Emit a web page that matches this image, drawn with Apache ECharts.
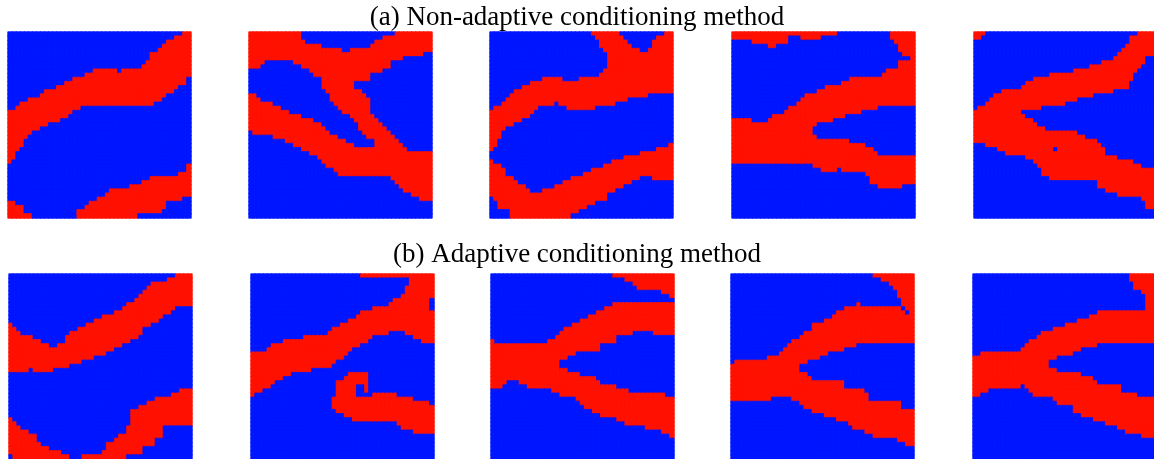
<!DOCTYPE html>
<html><head><meta charset="utf-8">
<script src="https://cdn.jsdelivr.net/npm/echarts@6/dist/echarts.min.js"></script>
<style>html,body{margin:0;padding:0;background:#fff}#c{width:1154px;height:459px}</style>
</head><body><div id="c"></div>
<script>
// Facies realisations on a 45x45 grid. Each column lists red (channel) runs as [start,end) row pairs, row 0 at top.
const titles = ['(a) Non-adaptive conditioning method', '(b) Adaptive conditioning method'];
const faciesNames = ['background', 'channel'];

const a1 = [
[19,32,41,45],[19,31,41,45],[18,29,42,45],[17,28,42,45],[17,26,44,45],[16,25,44,45],[16,24],[16,24],[15,23],[14,23],
[14,22],[14,22],[13,22],[13,21],[12,21],[12,20],[11,19],[11,19,43,45],[11,18,43,45],[10,18,42,45],
[10,18,41,45],[9,18,41,45],[9,18,40,45],[9,18,40,45],[9,18,39,45],[9,18,38,45],[9,18,38,45],[10,18,38,45],[9,18,38,45],[9,18,38,45],
[9,18,37,45],[9,18,37,45],[9,18,37,44],[8,18,36,44],[7,18,36,44],[5,18,35,44],[5,17,35,44],[4,17,35,44],[3,16,35,43],[2,15,35,41],
[2,15,35,41],[1,14,35,41],[1,13,34,41],[0,13,34,40],[0,11,32,40]
];
const a2 = [
[0,9,15,24],[0,9,15,25],[0,9,16,25],[0,8,17,25],[0,7,17,25],[0,7,17,25],[0,7,18,26],[0,7,18,26],[0,7,19,26],[0,7,19,27],
[0,7,20,27],[0,8,20,28],[0,8,20,28],[2,9,21,29],[3,9,21,29],[3,10,21,30],[3,11,22,30],[3,11,22,31],[4,14,23,32],[4,15,24,33],
[4,17,25,33],[4,18,25,34],[4,19,26,35],[5,20,26,35],[5,20,27,35],[4,21,27,35],[4,12,14,22,28,35],[4,12,14,24,28,35],[4,12,15,25,28,35],[4,12,16,26,28,35],
[3,10,20,26,28,35],[2,10,21,35],[2,10,22,35],[1,9,23,35],[1,9,24,35],[1,7,25,36],[0,7,26,37],[0,7,27,38],[0,6,28,39],[0,6,29,39],
[0,6,29,40],[0,6,29,40],[0,6,29,41],[0,5,29,41],[0,5,29,41]
];
const a3 = [
[19,29,31,40],[18,28,32,41],[18,26,32,43],[17,24,33,43],[16,23,35,43],[15,23,35,45],[14,22,36,45],[14,22,37,45],[13,21,37,45],[13,21,38,45],
[12,20,39,45],[12,19,39,45],[12,18,39,45],[11,18,38,45],[11,18,38,45],[11,18,38,45],[11,17,37,45],[11,18,37,45],[12,18,36,45],[12,19,36,45],
[12,19,35,44],[12,19,35,44],[11,19,35,43],[11,19,34,43],[11,19,34,42],[0,1,11,19,33,42],[0,2,11,18,33,41],[0,4,10,18,33,41],[0,5,9,18,32,41],[0,18,32,39],
[0,18,31,39],[0,17,31,38],[1,17,31,38],[2,17,30,37],[3,16,30,37],[4,16,30,36],[4,16,30,36],[5,16,29,35],[5,16,29,35],[4,15,29,35],
[2,15,29,36],[1,15,28,36],[1,15,28,36],[0,15,28,36],[0,15,27,36]
];
const a4 = [
[0,2,21,32],[0,2,21,32],[0,2,21,32],[0,2,21,32],[0,2,21,32],[0,3,22,32],[0,3,22,32],[0,3,22,32],[0,3,22,32],[0,4,21,32],
[0,4,20,32],[0,3,20,32],[0,3,20,32],[0,3,19,32],[0,1,18,32],[0,1,18,32],[0,1,17,32],[0,2,16,32],[0,2,15,32],[0,2,15,32],
[0,2,15,23,25,33],[0,2,14,22,26,33],[0,1,14,22,26,34],[0,1,13,22,26,34],[0,1,13,22,26,34],[0,1,13,21,26,34],[13,21,26,33],[12,21,26,34],[12,20,26,34],[11,20,27,34],
[11,20,27,34],[11,20,27,34],[11,19,27,34],[11,19,28,35],[11,19,28,37],[11,19,29,37],[11,18,30,38],[10,18,30,38],[9,18,30,38],[0,2,9,18,30,38],
[0,3,9,18,30,38],[0,5,7,18,30,38],[0,6,7,18,30,37],[0,6,7,18,30,37],[0,18,30,37]
];
const a5 = [
[0,2,19,27],[0,2,18,27],[0,1,18,27],[17,28],[16,28],[15,28],[15,29],[14,29],[14,30],[14,30],
[14,30],[14,30],[13,19,20,30],[12,19,21,31],[12,19,21,31],[11,19,22,32],[11,19,23,33],[11,18,23,35],[11,18,24,35],[10,18,24,36],
[10,18,24,28,29,36],[10,18,24,36],[10,18,24,36],[10,17,24,36],[10,17,24,36],[9,17,24,36],[9,16,25,36],[9,16,25,36],[9,16,26,36],[8,16,26,36],
[8,15,26,36],[8,15,27,38],[7,15,28,38],[7,15,30,39],[7,15,30,39],[6,14,30,39],[5,14,31,40],[4,14,31,40],[3,14,31,40],[1,12,31,40],
[1,10,32,40],[0,9,32,40],[0,8,33,41],[0,6,33,43],[0,6,33,43]
];
const b1 = [
[12,24,35,44],[13,24,36,45],[14,24,37,45],[15,24,38,45],[15,24,38,45],[15,23,39,45],[16,24,39,45],[16,24,41,45],[17,24,42,45],[17,24,42,45],
[18,24,43,45],[18,23,43,45],[17,23,43,45],[17,23,44,45],[15,23,44,45],[14,22],[14,22],[13,22],[13,21,44,45],[12,21,44,45],
[12,21,44,45],[11,20,44,45],[11,20,44,45],[10,20,43,45],[10,19,41,45],[10,19,41,45],[9,18,40,45],[9,18,39,45],[8,17,39,45],[7,17,37,44],
[7,16,33,44],[6,16,33,44],[5,15,32,44],[4,13,32,42],[3,13,31,42],[2,12,31,42],[2,12,30,40],[2,11,30,40],[2,10,30,37],[1,10,30,37],
[1,9,29,37],[0,8,29,37],[0,8,28,37],[0,8,28,37],[0,8,28,37]
];
const b2 = [
[19,30],[19,29],[19,29],[19,28],[18,28],[17,27],[17,26],[17,26],[16,25],[16,25],
[16,24],[16,24],[16,24],[15,24],[15,24],[15,23],[15,23],[15,23],[15,23],[14,23],
[13,22,30,33],[13,21,26,34],[12,21,26,34],[12,20,25,35],[11,19,24,35],[11,18,24,36],[10,18,24,27,30,36],[0,1,9,17,24,27,30,36],[0,1,9,17,24,29,30,36],[0,1,9,16,30,36],
[0,1,8,15,29,36],[0,1,8,15,29,36],[0,1,8,15,29,36],[0,1,8,15,29,36],[0,1,7,14,29,36],[0,1,6,14,29,36],[0,1,6,14,30,37],[0,1,5,14,30,38],[0,1,3,15,30,38],[0,15,30,38],
[0,16,31,39],[0,16,31,39],[0,17,31,39],[0,17,31,39],[0,6,9,17,32,39]
];
const b3 = [
[16,28],[17,28],[17,28],[17,27],[17,26],[17,26],[17,26],[17,27],[17,27],[17,28],
[17,28],[17,28],[17,28],[17,28],[16,28],[16,29],[15,29],[14,21,23,30],[13,21,23,30],[13,20,24,30],
[12,20,24,30],[12,19,24,31],[11,19,25,32],[11,19,25,33],[10,19,25,33],[10,19,25,34],[9,19,26,34],[9,17,27,35],[8,17,27,35],[8,17,27,35],
[0,1,7,17,27,35],[0,1,7,15,28,36],[0,1,7,15,28,36],[0,2,7,15,28,37],[0,2,7,15,29,37],[0,3,7,14,29,37],[0,4,7,14,29,37],[0,4,7,14,29,37],[0,4,7,14,29,38],[0,4,7,14,29,38],
[0,4,7,15,29,38],[0,4,7,15,29,38],[0,5,7,15,29,39],[0,5,7,15,30,39],[0,6,7,15,30,40]
];
const b4 = [
[22,31],[21,31],[21,31],[21,31],[21,31],[21,31],[21,31],[21,31],[21,31],[20,31],
[20,30],[20,30],[19,30],[18,30],[17,30],[16,31],[16,31],[15,22,24,32],[14,22,24,33],[14,21,25,33],
[12,21,26,34],[12,21,26,34],[12,20,26,34],[11,20,26,35],[11,19,26,35],[10,19,26,35],[9,19,26,36],[9,19,26,36],[8,18,28,36],[8,18,28,37],
[8,18,28,38],[7,17,28,38],[8,17,28,38],[8,17,29,39],[8,17,31,39],[0,1,8,17,31,40],[0,1,8,17,31,40],[0,2,8,17,31,40],[0,2,8,17,31,40],[0,3,8,17,31,40],
[0,4,8,17,31,40],[0,6,8,17,31,41],[0,8,9,17,33,41],[0,9,10,17,33,42],[0,17,33,42]
];
const b5 = [
[20,30],[20,30],[19,29],[19,29],[19,28],[19,28],[19,28],[19,28],[19,28],[19,28],
[19,28],[19,28],[18,27],[17,28],[16,29],[16,30],[15,30],[14,30],[14,30],[14,21,23,30],
[13,21,23,31],[13,20,24,32],[13,20,24,32],[12,20,24,32],[12,20,24,32],[12,19,24,34],[11,19,24,34],[11,18,25,35],[11,18,25,35],[10,18,25,35],
[10,18,26,36],[9,17,27,36],[9,17,27,36],[9,17,27,37],[9,17,27,37],[9,17,27,37],[9,17,27,38],[9,17,29,38],[9,17,29,39],[0,2,9,17,29,39],
[0,4,9,17,29,39],[0,4,9,17,30,39],[0,5,9,17,30,40],[0,17,30,40],[0,17,30,40]
];

const panels = [a1, a2, a3, a4, a5, b1, b2, b3, b4, b5];
const N = 45;
const panelLeft = [[8, 249, 490, 732, 974], [9, 251, 491, 731, 973]];
const panelTop = [32, 274];
const PW = 183, PH = 186;
const COLORS = ['#0016ff', '#ff1100'];

function decode(cols) {
  const d = [];
  for (let c = 0; c < N; c++) {
    const runs = cols[c];
    for (let r = 0; r < N; r++) {
      let v = 0;
      for (let k = 0; k < runs.length; k += 2) if (r >= runs[k] && r < runs[k + 1]) v = 1;
      d.push({value: [c, r, v], name: faciesNames[v],
        itemStyle: {color: COLORS[v], borderColor: COLORS[v], borderWidth: 0.8}});
    }
  }
  return d;
}

const idx = Array.from({length: N}, (_, i) => i);
const grid = [], xAxis = [], yAxis = [], series = [];
panels.forEach((p, i) => {
  const row = Math.floor(i / 5), col = i % 5;
  grid.push({left: panelLeft[row][col], top: panelTop[row], width: PW, height: PH});
  xAxis.push({type: 'category', data: idx, gridIndex: i, show: false, boundaryGap: true});
  yAxis.push({type: 'category', data: idx, gridIndex: i, show: false, inverse: true, boundaryGap: true});
  series.push({type: 'heatmap', xAxisIndex: i, yAxisIndex: i, data: decode(p), progressive: 0, emphasis: {disabled: true}});
});

const chart = echarts.init(document.getElementById('c'), null, {renderer: 'canvas'});
chart.setOption({
  animation: false,
  backgroundColor: '#ffffff',
  title: [
    {text: titles[0], left: 'center', top: 4, padding: 0, textStyle: {fontFamily: 'Liberation Serif', fontSize: 27, fontWeight: 'normal', color: '#000'}},
    {text: titles[1], left: 'center', top: 241, padding: 0, textStyle: {fontFamily: 'Liberation Serif', fontSize: 27, fontWeight: 'normal', color: '#000'}}
  ],
  grid, xAxis, yAxis, series
});
</script></body></html>
